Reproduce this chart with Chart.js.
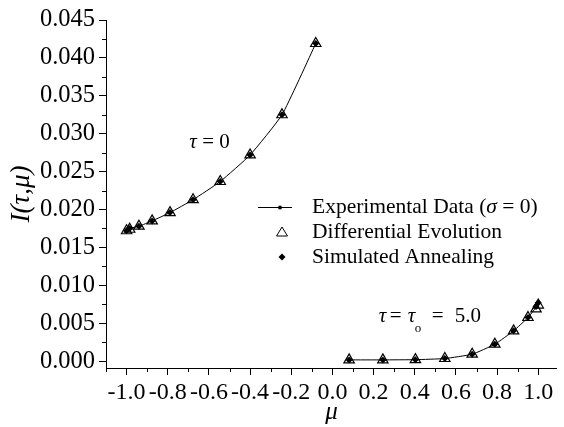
<!DOCTYPE html>
<html>
<head>
<meta charset="utf-8">
<script src="https://cdn.jsdelivr.net/npm/chart.js@4"></script>
<style>
  html, body { margin: 0; padding: 0; background: #fff; }
  #wrap { width: 564px; height: 427px; }
</style>
</head>
<body>
<div id="wrap"><canvas id="chart" width="564" height="427"></canvas></div>
<script>
// mu nodes and intensities
const muUpper = [-1.0, -0.985, -0.94, -0.876, -0.789, -0.677, -0.545, -0.40, -0.245, -0.081];
const expUpper = [0.0172, 0.0175, 0.0178, 0.0185, 0.0196, 0.0213, 0.0237, 0.0272, 0.0325, 0.0419];
const deUpper  = [0.0172, 0.0174, 0.0178, 0.0185, 0.0196, 0.0213, 0.0237, 0.0272, 0.0325, 0.0419];
const saUpper  = [0.0172, 0.0175, 0.0178, 0.0185, 0.0196, 0.0213, 0.0237, 0.0272, 0.0325, 0.0419];

const muLower = [0.081, 0.245, 0.403, 0.546, 0.679, 0.789, 0.880, 0.950, 0.989, 1.0];
const expLower = [0.00017, 0.00017, 0.0002, 0.00035, 0.00092, 0.00224, 0.0040, 0.00576, 0.0071, 0.0076];
const deLower  = [0.00017, 0.00017, 0.0002, 0.00035, 0.00092, 0.00224, 0.0040, 0.00576, 0.0069, 0.0074];
const saLower  = [0.00017, 0.00017, 0.0002, 0.00035, 0.00092, 0.00224, 0.0040, 0.00576, 0.0072, 0.0077];

const xTicks = [-1.0, -0.8, -0.6, -0.4, -0.2, 0.0, 0.2, 0.4, 0.6, 0.8, 1.0];
const yTicks = [0, 0.005, 0.010, 0.015, 0.020, 0.025, 0.030, 0.035, 0.040, 0.045];
const seriesLabels = ['Experimental Data', 'Differential Evolution', 'Simulated Annealing'];

const FONT = 'Liberation Serif';

function pts(xs, ys) {
  return xs.map((x, i) => ({ x: x, y: ys[i] }));
}
// upper branch, a break, then lower branch
function branches(up, low) {
  return pts(muUpper, up).concat([{ x: 0, y: null }], pts(muLower, low));
}

// draw a run of [text, italic] pieces starting at x
function drawRich(ctx, parts, x, y, size) {
  parts.forEach(p => {
    ctx.font = (p[1] ? 'italic ' : '') + size + 'px "' + FONT + '"';
    ctx.fillText(p[0], x, y);
    x += ctx.measureText(p[0]).width;
  });
  return x;
}

const extras = {
  id: 'extras',
  afterDraw(chart) {
    const ctx = chart.ctx;
    const xs = chart.scales.x, ys = chart.scales.y;
    const area = chart.chartArea;
    ctx.save();
    ctx.strokeStyle = '#000';
    ctx.lineWidth = 1;
    // minor ticks
    ctx.beginPath();
    for (let k = -11; k <= 11; k += 2) {
      const px = Math.round(xs.getPixelForValue(k / 10)) + 0.5;
      if (px < area.left || px > area.right + 1) continue;
      ctx.moveTo(px, area.bottom);
      ctx.lineTo(px, area.bottom + 4);
    }
    for (let k = 0; k < 9; k++) {
      const py = Math.round(ys.getPixelForValue(0.0025 + k * 0.005)) + 0.5;
      ctx.moveTo(area.left - 4, py);
      ctx.lineTo(area.left, py);
    }
    ctx.stroke();

    ctx.fillStyle = '#000';
    ctx.textBaseline = 'middle';
    // curve labels
    drawRich(ctx, [['τ', true], [' = 0', false]], xs.getPixelForValue(-0.695), ys.getPixelForValue(0.0288), 21);
    const x0 = xs.getPixelForValue(0.225), y0 = ys.getPixelForValue(0.0059);
    drawRich(ctx, [['τ', true]], x0, y0, 21);
    drawRich(ctx, [['=', false]], x0 + 11, y0, 21);
    drawRich(ctx, [['τ', true]], x0 + 29, y0, 21);
    ctx.font = '13px "' + FONT + '"';
    ctx.fillText('o', x0 + 36, y0 + 12);
    drawRich(ctx, [['=', false]], x0 + 53, y0, 21);
    drawRich(ctx, [['5.0', false]], x0 + 76, y0, 21);

    // legend
    const lx = area.left + 152, ly = area.top + 187, gap = 25;
    ctx.beginPath();
    ctx.moveTo(lx, ly + 0.5);
    ctx.lineTo(lx + 34, ly + 0.5);
    ctx.stroke();
    ctx.beginPath();
    ctx.arc(lx + 22, ly + 0.5, 2, 0, Math.PI * 2);
    ctx.fill();
    // triangle
    const tcx = lx + 24, tcy = ly + gap;
    ctx.beginPath();
    ctx.moveTo(tcx, tcy - 5);
    ctx.lineTo(tcx + 5.5, tcy + 4);
    ctx.lineTo(tcx - 5.5, tcy + 4);
    ctx.closePath();
    ctx.stroke();
    // diamond
    const dcx = lx + 24, dcy = ly + 2 * gap;
    ctx.beginPath();
    ctx.moveTo(dcx, dcy - 3.5);
    ctx.lineTo(dcx + 3.5, dcy);
    ctx.lineTo(dcx, dcy + 3.5);
    ctx.lineTo(dcx - 3.5, dcy);
    ctx.closePath();
    ctx.fill();
    const txL = lx + 54;
    drawRich(ctx, [[seriesLabels[0] + ' (', false], ['σ', true], [' = 0)', false]], txL, ly, 21.5);
    drawRich(ctx, [[seriesLabels[1], false]], txL, ly + gap, 21.5);
    drawRich(ctx, [[seriesLabels[2], false]], txL, ly + 2 * gap, 21.5);
    ctx.restore();
  }
};

const ctx = document.getElementById('chart').getContext('2d');
const myChart = new Chart(ctx, {
  type: 'line',
  plugins: [extras],
  data: {
    datasets: [
      {
        label: seriesLabels[0],
        data: branches(expUpper, expLower),
        borderColor: '#000',
        backgroundColor: '#000',
        borderWidth: 1,
        pointRadius: 1.8,
        pointBorderWidth: 0,
        tension: 0.15,
        spanGaps: false,
        order: 3,
      },
      {
        label: seriesLabels[1],
        data: branches(deUpper, deLower),
        showLine: false,
        pointStyle: 'triangle',
        pointRadius: 6,
        pointBorderWidth: 1.2,
        pointBorderColor: '#000',
        pointBackgroundColor: 'rgba(0,0,0,0)',
        order: 2,
      },
      {
        label: seriesLabels[2],
        data: branches(saUpper, saLower),
        showLine: false,
        pointStyle: 'rectRot',
        pointRadius: 3.5,
        pointBorderWidth: 0,
        pointBackgroundColor: '#000',
        order: 1,
      },
    ],
  },
  options: {
    responsive: false,
    animation: false,
    events: [],
    layout: { padding: { top: 20, right: 1, left: 0, bottom: 0 } },
    plugins: {
      legend: { display: false },
      tooltip: { enabled: false },
    },
    scales: {
      x: {
        type: 'linear',
        min: -1.1,
        max: 1.09,
        afterBuildTicks: (scale) => { scale.ticks = xTicks.map(v => ({ value: v })); },
        afterFit: (scale) => { scale.height = 59; },
        border: { display: true, color: '#000', width: 1 },
        grid: { drawOnChartArea: false, drawTicks: true, tickLength: 7, tickColor: '#000' },
        ticks: {
          autoSkip: false,
          maxRotation: 0,
          minRotation: 0,
          padding: 3,
          color: '#000',
          font: { family: FONT, size: 24 },
          callback: (v) => v.toFixed(1),
        },
        title: {
          display: true,
          text: 'μ',
          color: '#000',
          font: { family: FONT, size: 25, style: 'italic' },
          padding: { top: 4, bottom: 0 },
        },
      },
      y: {
        type: 'linear',
        min: -0.0009,
        max: 0.045,
        afterBuildTicks: (scale) => { scale.ticks = yTicks.map(v => ({ value: v })); },
        afterFit: (scale) => { scale.width = 106; },
        border: { display: true, color: '#000', width: 1 },
        grid: { drawOnChartArea: false, drawTicks: true, tickLength: 7, tickColor: '#000' },
        ticks: {
          padding: 4,
          color: '#000',
          font: { family: FONT, size: 24.5 },
          callback: (v) => v.toFixed(3),
        },
        title: {
          display: true,
          text: 'I(τ,μ)',
          color: '#000',
          font: { family: FONT, size: 27, style: 'italic' },
          padding: { top: 6, bottom: 0 },
        },
      },
    },
  },
});
</script>
</body>
</html>
